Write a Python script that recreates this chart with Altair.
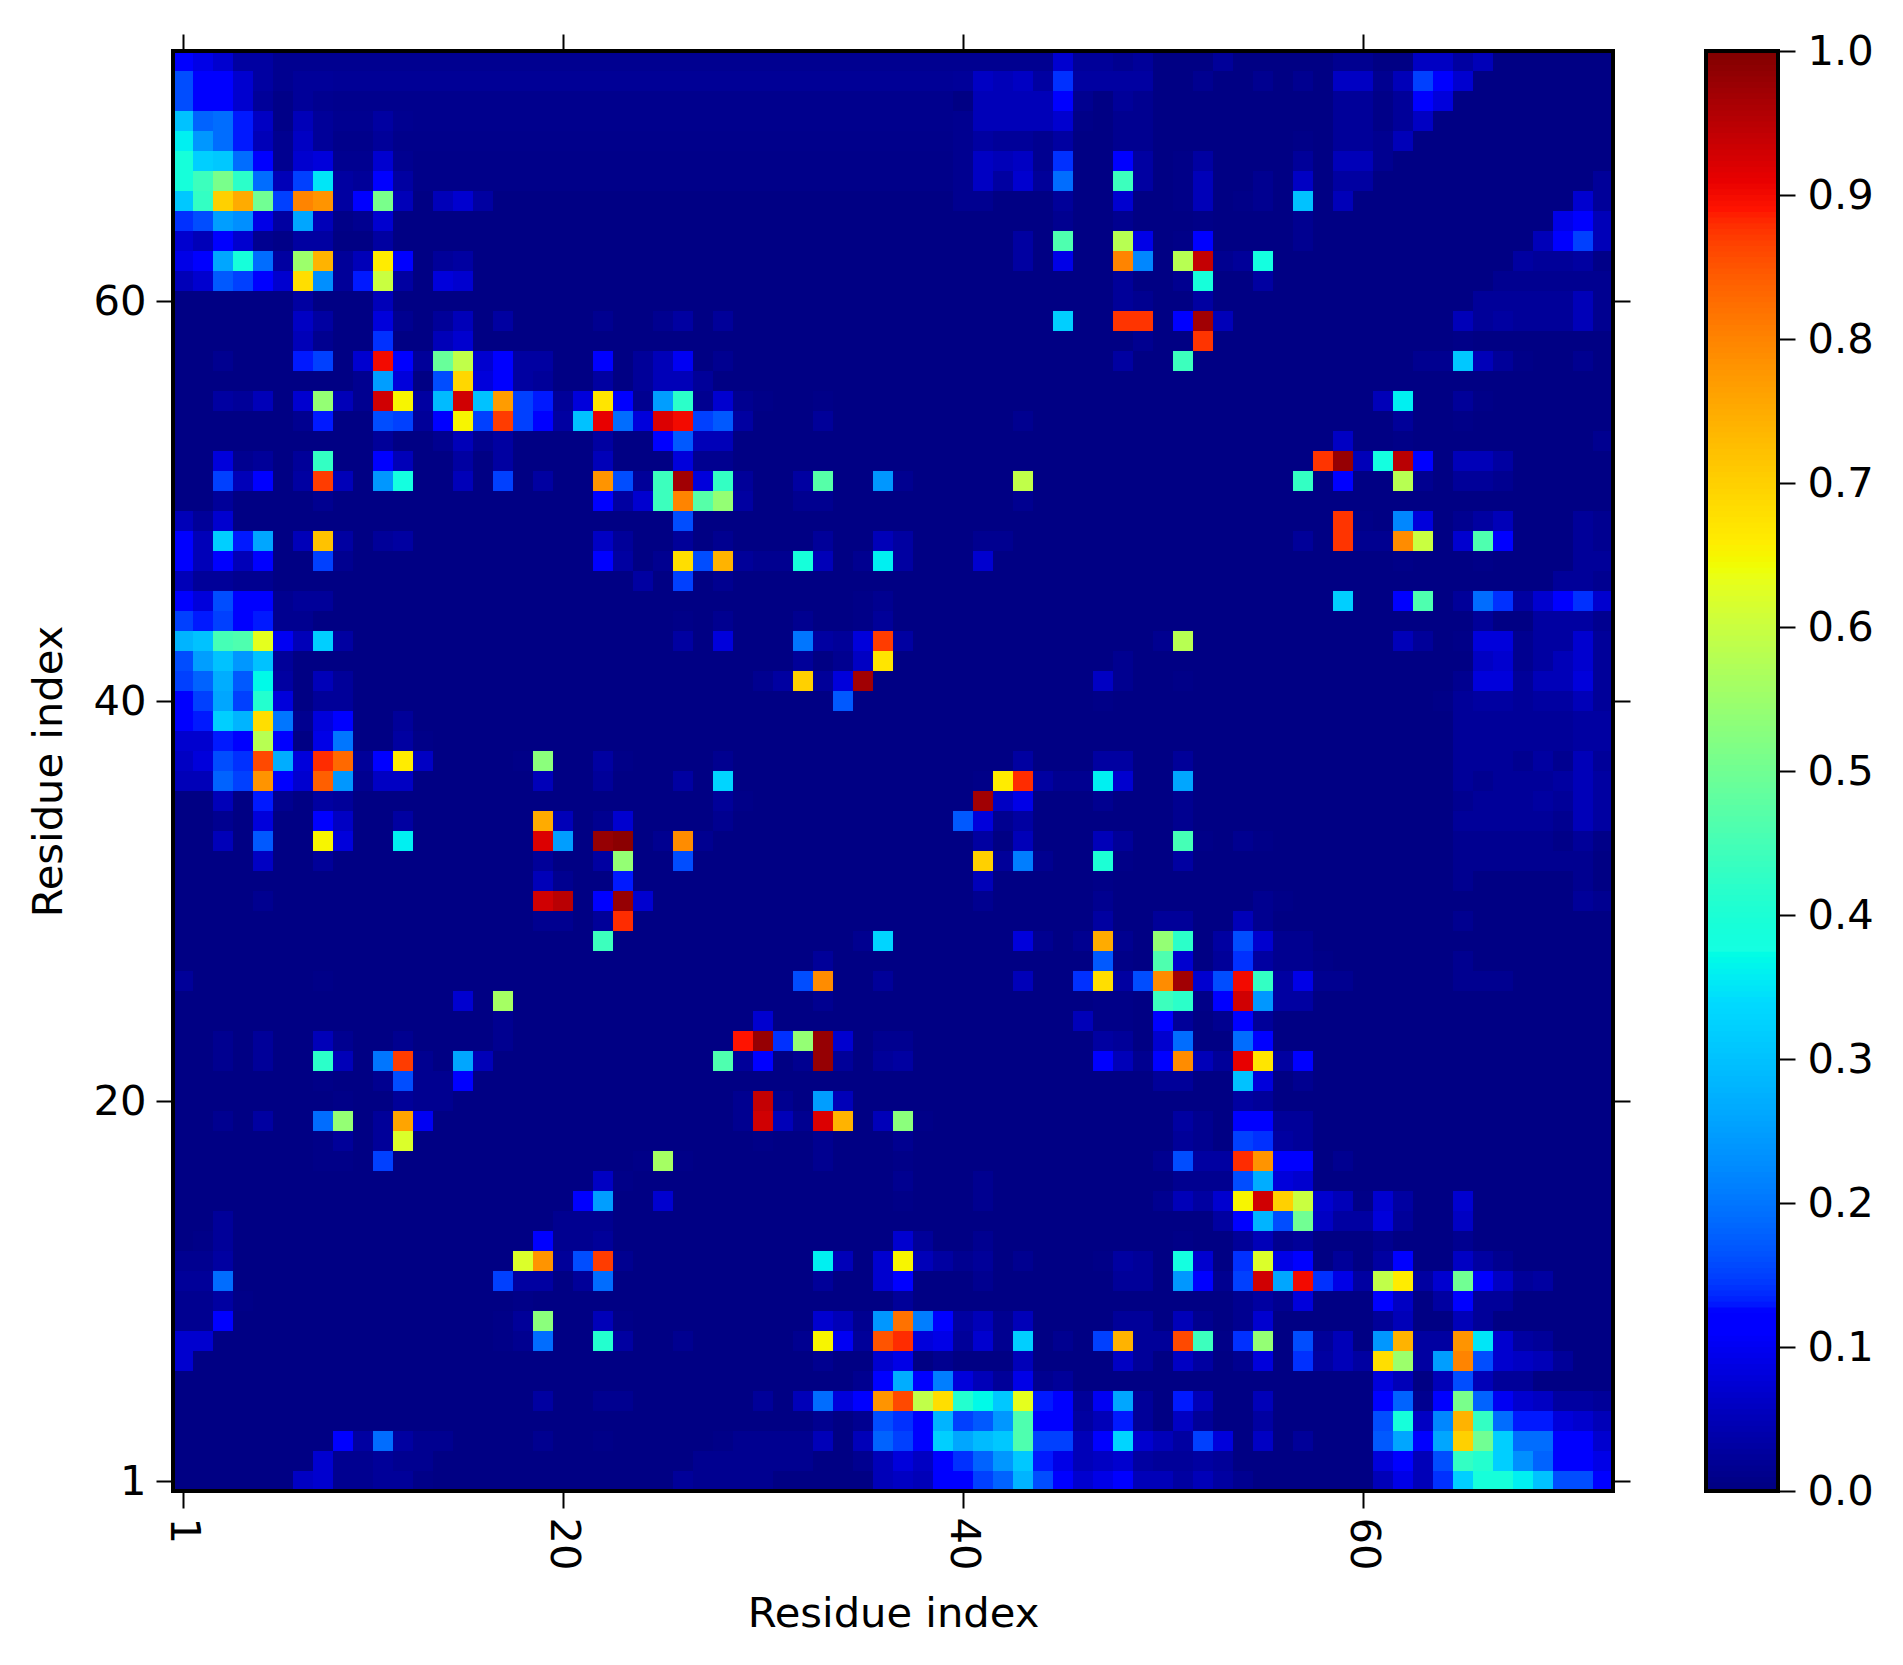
import altair as alt
import pandas as pd

N = 72
background = 0.004
x_ticks = [1, 20, 40, 60]
y_ticks = [1, 20, 40, 60]
bar_ticks = [0.0, 0.1, 0.2, 0.3, 0.4, 0.5, 0.6, 0.7, 0.8, 0.9, 1.0]
bar_levels = [i / 255 for i in range(256)]

jet_stops = [0, .11, .125, .34, .35, .375, .64, .65, .66, .89, .91, 1]
jet_colors = ["#000080", "#0000ff", "#0000ff", "#00dbff", "#00e6f7", "#15ffe2",
              "#eeff08", "#f7f500", "#ffec00", "#ff1300", "#e80000", "#800000"]

faint_spans = [(72, 8, 44, .015), (71, 9, 39, .02), (70, 9, 39, .012), (69, 9, 39, .012),
               (68, 9, 39, .01), (67, 9, 39, .008), (66, 9, 39, .008)]

r72 = {1:.11,2:.09,3:.07,4:.04,5:.04,6:.02,7:.02,45:.07,46:.03,47:.03,48:.02,49:.03,53:.03,59:.02,60:.02,63:.06,64:.06,65:.04,66:.05}
r71 = {1:.16,2:.11,3:.11,4:.07,5:.04,6:.02,7:.03,8:.03,40:.03,41:.06,42:.05,43:.06,44:.04,45:.14,46:.04,47:.04,48:.04,49:.04,52:.02,55:.02,57:.02,59:.06,60:.06,61:.02,62:.05,63:.15,64:.11,65:.07}
r70 = {1:.16,2:.11,3:.11,4:.07,5:.03,6:.01,7:.03,8:.02,41:.05,42:.05,43:.05,44:.05,45:.11,46:.02,48:.03,49:.02,59:.03,60:.03,61:.01,62:.03,63:.11,64:.08}
r69 = {1:.3,2:.18,3:.19,4:.13,5:.06,6:.01,7:.05,8:.03,9:.02,10:.02,11:.04,12:.02,40:.02,41:.05,42:.05,43:.05,44:.05,45:.07,46:.01,48:.02,49:.02,59:.03,60:.03,61:.01,62:.03,63:.06}
r68 = {1:.36,2:.24,3:.19,4:.13,5:.05,6:.02,7:.06,8:.03,11:.03,40:.02,41:.04,42:.03,43:.03,44:.02,45:.04,48:.02,49:.02,57:.01,59:.03,60:.03,61:.02,62:.05}
r67 = {1:.39,2:.32,3:.31,4:.19,5:.11,6:.02,7:.07,8:.08,9:.02,10:.02,11:.07,12:.02,40:.02,41:.06,42:.05,43:.06,44:.02,45:.14,48:.11,49:.04,51:.01,52:.04,57:.03,59:.05,60:.05,61:.02}
r66 = {1:.39,2:.44,3:.51,4:.42,5:.19,6:.05,7:.15,8:.35,9:.04,10:.03,11:.11,12:.04,40:.02,41:.06,42:.04,43:.07,44:.03,45:.19,48:.44,49:.04,51:.01,52:.05,55:.02,57:.06,59:.04,60:.04,72:.03}
r65 = {1:.31,2:.43,3:.7,4:.75,5:.5,6:.15,7:.8,8:.78,9:.04,10:.11,11:.51,12:.05,14:.05,15:.07,16:.04,40:.02,41:.02,45:.03,48:.07,51:.01,52:.05,54:.01,55:.02,57:.3,59:.05,71:.07,72:.03}
r64 = {1:.14,2:.16,3:.25,4:.23,5:.09,6:.04,7:.26,8:.05,9:.01,10:.02,11:.07,45:.02,48:.02,52:.01,57:.02,70:.09,71:.11,72:.05}
r63 = {1:.07,2:.05,3:.11,4:.07,5:.02,6:.01,7:.04,8:.04,11:.04,43:.04,45:.46,48:.58,49:.09,51:.01,52:.11,57:.02,69:.05,70:.11,71:.15,72:.05}
r62 = {1:.09,2:.11,3:.26,4:.39,5:.19,6:.04,7:.55,8:.74,9:.03,10:.05,11:.66,12:.11,14:.03,15:.04,43:.04,45:.09,48:.8,49:.22,51:.58,52:.94,53:.02,54:.03,55:.38,68:.04,69:.03,70:.03,71:.04,72:.01}
r61 = {1:.05,2:.07,3:.17,4:.15,5:.11,6:.07,7:.68,8:.23,9:.03,10:.13,11:.6,12:.04,14:.08,15:.07,48:.03,51:.02,52:.39,55:.04,67:.02,68:.02,69:.02,70:.02,71:.02,72:.02}
r60 = {7:.04,11:.05,48:.03,49:.02,52:.04,66:.03,67:.03,68:.03,69:.03,70:.03,71:.05,72:.02}
r59 = {7:.06,8:.04,11:.08,12:.02,14:.03,15:.05,17:.04,22:.02,25:.02,26:.04,28:.03,45:.32,48:.875,49:.875,51:.11,52:.97,53:.05,65:.05,66:.03,67:.04,68:.03,69:.03,70:.03,71:.05,72:.02}
r58 = {7:.05,8:.02,11:.14,14:.05,15:.07,49:.02,52:.875,65:.01}
r57 = {3:.02,7:.13,8:.15,10:.07,11:.9,12:.12,13:.03,14:.49,15:.59,16:.07,17:.11,18:.04,19:.04,22:.11,24:.03,25:.05,26:.1,28:.02,48:.04,51:.44,63:.02,64:.02,65:.31,66:.05,67:.03,68:.01,71:.02}
r56 = {10:.02,11:.25,12:.08,14:.16,15:.69,16:.08,17:.11,18:.04,19:.03,22:.04,24:.03,25:.05,26:.05,27:.03}
r55 = {3:.04,4:.03,5:.05,7:.07,8:.54,9:.05,10:.02,11:.93,12:.65,13:.04,14:.29,15:.93,16:.3,17:.77,18:.15,19:.13,20:.03,21:.08,22:.67,23:.11,24:.02,25:.25,26:.42,27:.02,28:.07,29:.02,30:.01,33:.01,61:.05,62:.36,65:.03,66:.01}
r54 = {7:.02,8:.13,11:.16,12:.15,13:.03,14:.11,15:.65,16:.15,17:.87,18:.15,19:.11,20:.04,21:.3,22:.91,23:.19,24:.08,25:.92,26:.9,27:.15,28:.17,29:.04,33:.03,43:.02,62:.03,65:.01}
r53 = {11:.03,14:.02,15:.05,16:.02,17:.04,22:.04,25:.11,26:.17,27:.05,28:.05,59:.06,62:.01,72:.02}
r52 = {3:.08,4:.02,5:.03,7:.03,8:.43,11:.11,12:.05,15:.04,17:.04,22:.05,26:.08,27:.02,28:.02,58:.875,59:.98,60:.05,61:.38,62:.95,63:.11,65:.05,66:.05,67:.04}
r51 = {3:.15,4:.05,5:.12,7:.04,8:.87,9:.05,11:.24,12:.38,15:.05,17:.15,19:.04,22:.78,23:.16,24:.03,25:.44,26:.97,27:.08,28:.43,29:.03,32:.04,33:.47,36:.24,37:.02,43:.59,57:.43,59:.11,62:.58,63:.02,65:.03,66:.03,67:.02}
r50 = {3:.03,8:.02,22:.11,23:.04,24:.07,25:.44,26:.8,27:.47,28:.54,29:.04,32:.02,33:.02,43:.02}
r49 = {1:.05,2:.03,3:.07,26:.16,59:.875,60:.01,62:.22,63:.08,65:.02,66:.04,67:.05,71:.03,72:.02}
r48 = {1:.11,2:.05,3:.32,4:.13,5:.26,7:.05,8:.72,9:.04,11:.03,12:.04,22:.06,23:.03,26:.03,28:.02,33:.03,36:.05,37:.04,41:.02,42:.02,57:.03,59:.875,60:.02,61:.02,62:.79,63:.6,65:.07,66:.46,67:.11,71:.03,72:.02}
r47 = {1:.11,2:.05,3:.11,4:.05,5:.11,8:.15,9:.02,22:.11,23:.04,25:.02,26:.68,27:.16,28:.74,29:.03,30:.02,31:.02,32:.39,33:.05,35:.02,36:.36,37:.04,41:.07,62:.01,66:.01,71:.03,72:.03}
r46 = {1:.05,2:.03,3:.03,4:.02,5:.02,24:.04,26:.15,28:.02,70:.03,71:.03,72:.02}
r45 = {1:.11,2:.08,3:.16,4:.11,5:.11,6:.02,7:.03,8:.03,35:.01,36:.02,59:.32,62:.11,63:.46,65:.03,66:.19,67:.14,68:.04,69:.07,70:.11,71:.14,72:.07}
r44 = {1:.15,2:.13,3:.15,4:.11,5:.13,6:.02,7:.02,26:.01,28:.02,32:.02,35:.01,36:.03,66:.03,69:.04,70:.04,71:.04,72:.02}
r43 = {1:.28,2:.3,3:.45,4:.46,5:.63,6:.1,7:.05,8:.32,9:.04,26:.04,28:.08,32:.2,33:.04,34:.03,35:.08,36:.87,37:.04,50:.02,51:.58,62:.05,63:.03,65:.01,66:.08,67:.08,68:.02,69:.04,70:.04,71:.07,72:.03}
r42 = {1:.16,2:.25,3:.3,4:.24,5:.3,6:.03,32:.03,34:.02,35:.06,36:.67,48:.02,66:.06,67:.07,68:.02,69:.04,70:.05,71:.07,72:.03}
r41 = {1:.15,2:.18,3:.27,4:.17,5:.37,6:.04,8:.05,9:.03,30:.02,31:.04,32:.7,33:.03,34:.08,35:.97,47:.06,48:.02,51:.01,65:.02,66:.08,67:.08,68:.03,69:.05,70:.05,71:.08,72:.03}
r40 = {1:.11,2:.15,3:.26,4:.15,5:.41,6:.08,8:.03,9:.03,34:.17,47:.01,64:.01,65:.03,66:.04,67:.04,68:.03,69:.04,70:.04,71:.05,72:.03}
r39 = {1:.11,2:.13,3:.32,4:.28,5:.68,6:.2,7:.02,8:.08,9:.11,12:.03,65:.03,66:.03,67:.03,68:.03,69:.03,70:.03,71:.04,72:.04}
r38 = {1:.07,2:.07,3:.13,4:.11,5:.58,6:.12,8:.09,9:.2,12:.04,13:.01,65:.03,66:.03,67:.03,68:.03,69:.03,70:.03,71:.04,72:.04}
r37 = {1:.06,2:.08,3:.16,4:.14,5:.86,6:.27,7:.08,8:.88,9:.83,10:.03,11:.11,12:.66,13:.06,18:.01,19:.53,22:.04,23:.01,28:.02,43:.04,47:.04,48:.04,51:.03,65:.03,66:.03,67:.03,68:.02,69:.04,70:.02,71:.05,72:.03}
r36 = {1:.05,2:.05,3:.18,4:.15,5:.78,6:.11,7:.07,8:.84,9:.24,10:.02,11:.06,12:.06,19:.05,22:.03,26:.04,28:.33,41:.01,42:.66,43:.88,44:.04,45:.02,46:.02,47:.36,48:.07,51:.26,65:.03,66:.02,67:.03,68:.03,69:.03,70:.04,71:.05,72:.04}
r35 = {3:.05,5:.13,6:.02,8:.04,9:.03,28:.03,29:.01,41:.97,42:.06,43:.09,47:.02,51:.02,65:.02,66:.03,67:.03,68:.03,69:.04,70:.03,71:.05,72:.04}
r34 = {3:.02,5:.08,8:.11,9:.06,12:.04,19:.75,20:.05,22:.02,23:.07,28:.02,40:.17,41:.08,42:.02,43:.04,51:.02,65:.03,66:.03,67:.03,68:.03,69:.03,70:.02,71:.05,72:.04}
r33 = {3:.05,5:.17,8:.65,9:.08,12:.36,19:.92,20:.25,22:.98,23:.99,25:.02,26:.79,27:.02,41:.04,43:.05,47:.05,48:.03,51:.45,52:.01,54:.02,55:.01,65:.02,66:.02,67:.02,68:.02,69:.02,70:.01,71:.03,72:.01}
r32 = {5:.06,8:.03,19:.03,22:.04,23:.54,26:.16,41:.7,42:.03,43:.21,44:.02,47:.4,48:.01,51:.04,65:.02,66:.02,67:.02,68:.02,69:.02,70:.02,71:.02}
r31 = {19:.05,20:.02,23:.13,41:.05,47:.01,65:.02,71:.02}
r30 = {5:.02,19:.93,20:.95,22:.11,23:.98,24:.07,41:.02,47:.02,55:.02,56:.01,71:.03,72:.02}
r29 = {19:.02,20:.02,22:.03,23:.88,47:.04,50:.03,51:.03,54:.05,55:.02,65:.02}
r28 = {22:.44,35:.02,36:.33,43:.08,44:.02,46:.02,47:.75,48:.02,50:.54,51:.42,53:.04,54:.16,55:.07,56:.02,57:.02}
r27 = {33:.03,47:.17,48:.01,50:.46,51:.07,53:.03,54:.14,55:.04,56:.02,57:.02,58:.01,65:.02}
r26 = {1:.03,8:.01,32:.16,33:.79,36:.03,43:.05,46:.14,47:.68,48:.04,49:.16,50:.79,51:.97,52:.07,53:.16,54:.9,55:.43,56:.04,57:.09,58:.02,59:.02,65:.02,66:.02,67:.02}
r25 = {15:.07,17:.56,33:.02,47:.01,48:.01,50:.44,51:.42,52:.01,53:.11,54:.93,55:.24,56:.04,57:.04}
r24 = {17:.02,30:.07,46:.05,47:.01,48:.01,50:.11,51:.03,53:.02,54:.11,55:.03}
r23 = {3:.02,5:.03,8:.05,9:.02,12:.02,17:.02,29:.89,30:.98,31:.14,32:.54,33:.98,34:.07,36:.02,37:.02,47:.04,48:.03,50:.07,51:.19,54:.19,55:.11}
r22 = {3:.02,5:.03,8:.42,9:.05,11:.2,12:.87,13:.02,15:.26,16:.05,28:.46,29:.03,30:.11,32:.02,33:.98,34:.03,36:.03,37:.04,47:.11,48:.05,49:.02,50:.11,51:.79,52:.05,53:.03,54:.91,55:.67,56:.04,57:.11}
r21 = {8:.01,11:.02,12:.16,13:.02,14:.02,15:.11,50:.03,51:.03,54:.3,55:.08,57:.02}
r20 = {9:.01,12:.03,13:.02,14:.02,29:.02,30:.94,31:.02,33:.25,34:.05,54:.04,55:.03}
r19 = {3:.02,5:.04,8:.19,9:.54,11:.03,12:.76,13:.1,29:.02,30:.93,31:.05,32:.02,33:.92,34:.74,36:.05,37:.53,38:.01,51:.04,52:.02,54:.11,55:.11,56:.03,57:.03}
r18 = {8:.01,9:.03,11:.03,12:.62,30:.01,33:.02,37:.02,51:.03,52:.02,54:.15,55:.14,56:.04,57:.03}
r17 = {8:.01,9:.01,11:.15,24:.01,25:.56,26:.01,33:.02,37:.01,50:.02,51:.16,52:.04,53:.04,54:.88,55:.78,56:.11,57:.11,59:.02}
r16 = {22:.06,23:.01,37:.02,41:.02,51:.02,52:.02,53:.02,54:.16,55:.27,56:.08,57:.07}
r15 = {21:.11,22:.25,25:.07,37:.01,41:.02,50:.02,51:.05,52:.04,53:.07,54:.65,55:.93,56:.7,57:.6,58:.07,59:.05,60:.01,61:.07,62:.04,65:.07}
r14 = {3:.03,20:.02,21:.02,22:.02,53:.04,54:.11,55:.28,56:.16,57:.5,58:.06,59:.04,60:.04,61:.08,62:.03,65:.06}
r13 = {2:.01,3:.03,19:.11,20:.02,21:.02,22:.03,37:.07,38:.03,41:.02,51:.01,54:.03,55:.05,56:.02,57:.03,61:.02,65:.02}
r12 = {1:.02,2:.02,3:.04,18:.62,19:.78,20:.03,21:.16,22:.87,23:.02,33:.36,34:.05,36:.07,37:.65,38:.05,39:.04,40:.02,41:.03,43:.02,47:.01,48:.04,49:.03,51:.38,52:.07,54:.14,55:.62,56:.09,57:.12,59:.03,61:.04,62:.11,65:.06,66:.04,67:.02}
r11 = {1:.03,2:.03,3:.19,17:.15,18:.04,19:.04,21:.03,22:.19,33:.03,36:.07,37:.11,41:.02,48:.03,49:.03,51:.24,52:.11,53:.02,54:.15,55:.93,56:.26,57:.9,58:.14,59:.09,60:.04,61:.59,62:.66,63:.04,64:.07,65:.5,66:.11,67:.06,68:.03,69:.04}
r10 = {1:.02,2:.02,3:.04,4:.01,18:.01,37:.03,54:.02,55:.04,56:.02,57:.08,61:.12,62:.06,64:.04,65:.11,66:.03,67:.03}
r9 = {1:.02,2:.02,3:.11,17:.01,18:.03,19:.53,22:.05,23:.01,33:.07,34:.05,35:.02,36:.24,37:.82,38:.21,39:.11,40:.04,41:.05,42:.02,43:.05,48:.03,49:.03,51:.05,52:.02,54:.02,55:.07,61:.03,62:.05,65:.05,66:.03}
r8 = {1:.07,2:.07,17:.01,18:.02,19:.19,22:.41,23:.04,26:.02,32:.02,33:.65,34:.1,35:.03,36:.85,37:.88,38:.08,39:.09,40:.03,41:.07,42:.02,43:.32,45:.02,47:.15,48:.74,49:.03,50:.03,51:.86,52:.44,53:.01,54:.14,55:.54,57:.16,58:.03,59:.05,61:.24,62:.74,63:.04,64:.04,65:.78,66:.35,67:.07,68:.04,69:.03}
r7 = {1:.07,33:.02,36:.07,37:.09,39:.02,43:.05,48:.06,49:.03,51:.06,52:.04,54:.02,55:.08,57:.14,58:.04,59:.05,60:.04,61:.68,62:.55,63:.04,64:.25,65:.8,66:.16,67:.07,68:.06,69:.05,70:.03}
r6 = {35:.02,36:.11,37:.27,38:.11,39:.21,40:.08,41:.05,42:.03,43:.09,44:.02,45:.03,61:.08,62:.05,64:.05,65:.16,66:.05,67:.03,68:.03}
r5 = {19:.04,22:.02,23:.02,30:.03,32:.05,33:.19,34:.08,35:.11,36:.78,37:.86,38:.59,39:.68,40:.41,41:.37,42:.31,43:.63,44:.13,45:.11,46:.03,47:.1,48:.26,49:.03,51:.13,52:.05,55:.05,61:.11,62:.18,63:.02,64:.11,65:.51,66:.18,67:.1,68:.07,69:.06,70:.04,71:.04,72:.03}
r4 = {33:.02,35:.02,36:.16,37:.14,38:.11,39:.28,40:.15,41:.17,42:.24,43:.46,44:.11,45:.11,46:.04,47:.05,48:.13,49:.03,51:.06,52:.03,55:.04,61:.16,62:.39,63:.06,64:.22,65:.74,66:.43,67:.19,68:.13,69:.13,70:.08,71:.07,72:.05}
r3 = {9:.11,10:.04,11:.19,12:.04,13:.02,14:.02,19:.02,22:.01,28:.01,29:.02,30:.02,31:.02,32:.02,33:.05,35:.05,36:.18,37:.15,38:.12,39:.32,40:.26,41:.29,42:.31,43:.46,44:.15,45:.15,46:.05,47:.11,48:.33,49:.07,50:.05,51:.04,52:.15,53:.08,55:.06,57:.03,61:.17,62:.26,63:.11,64:.26,65:.7,66:.5,67:.32,68:.19,69:.19,70:.11,71:.11,72:.07}
r2 = {8:.07,9:.02,10:.02,11:.03,12:.02,13:.02,27:.02,28:.02,29:.02,30:.02,31:.02,32:.02,35:.02,36:.05,37:.08,38:.06,39:.12,40:.14,41:.18,42:.24,43:.31,44:.13,45:.09,46:.05,47:.06,48:.07,49:.04,50:.03,51:.03,52:.04,53:.03,61:.08,62:.11,63:.05,64:.16,65:.43,66:.41,67:.32,68:.23,69:.18,70:.11,71:.11,72:.09}
r1 = {7:.06,8:.07,9:.02,10:.02,11:.03,12:.03,13:.01,26:.03,27:.02,28:.02,29:.02,30:.02,36:.05,37:.06,38:.05,39:.11,40:.11,41:.15,42:.18,43:.28,44:.16,45:.11,46:.07,47:.09,48:.11,49:.05,50:.05,51:.04,52:.05,53:.04,54:.02,61:.05,62:.09,63:.05,64:.14,65:.32,66:.39,67:.39,68:.36,69:.3,70:.16,71:.16,72:.11}

rows = [r1,r2,r3,r4,r5,r6,r7,r8,r9,r10,r11,r12,r13,r14,r15,r16,r17,r18,r19,r20,r21,r22,r23,r24,
        r25,r26,r27,r28,r29,r30,r31,r32,r33,r34,r35,r36,r37,r38,r39,r40,r41,r42,r43,r44,r45,r46,r47,r48,
        r49,r50,r51,r52,r53,r54,r55,r56,r57,r58,r59,r60,r61,r62,r63,r64,r65,r66,r67,r68,r69,r70,r71,r72]

faint = {}
for y, a, b, v in faint_spans:
    for x in range(a, b + 1):
        faint[(x, y)] = v

records = []
for y in range(1, N + 1):
    row = rows[y - 1]
    for x in range(1, N + 1):
        v = row.get(x, faint.get((x, y), background))
        if x in row and v < .05:
            v *= .75  # my dim readings ran a little bright against the reference
        records.append({"x0": x - .5, "x1": x + .5, "y0": y - .5, "y1": y + .5, "v": v})
cells = pd.DataFrame(records)

FONT = "DejaVu Sans"
FS = 41.67
color = alt.Color("v:Q", legend=None,
                  scale=alt.Scale(domain=jet_stops, range=jet_colors, clamp=True))
pos = alt.Scale(domain=[.5, N + .5], nice=False, zero=False)


def axis(orient, values=None, title=None, labels=False, **kw):
    return alt.Axis(orient=orient, values=values, title=title, labels=labels, domain=False, grid=False,
                    ticks=True, tickSize=17, tickWidth=2, tickColor="black",
                    labelFont=FONT, labelFontSize=FS, labelColor="black",
                    titleFont=FONT, titleFontSize=FS, titleFontWeight="normal", titleColor="black", **kw)


heat = alt.Chart(cells).mark_rect(strokeWidth=0).encode(
    x=alt.X("x0:Q", scale=pos, axis=axis("bottom", x_ticks, "Residue index", True, labelAngle=90, labelPadding=9,
                                         labelBaseline="middle", labelAlign="left", titlePadding=23, labelFlush=False,
                                         labelOverlap=False)),
    x2="x1:Q",
    y=alt.Y("y0:Q", scale=pos, axis=axis("left", y_ticks, "Residue index", True, labelPadding=10, titlePadding=22,
                                         labelFlush=False, labelOverlap=False)),
    y2="y1:Q",
    color=color,
)
opposite = alt.Chart(pd.DataFrame({"x": [1], "y": [1]})).mark_point(opacity=0).encode(
    x=alt.X("x:Q", scale=pos, axis=axis("top", x_ticks)),
    y=alt.Y("y:Q", scale=pos, axis=axis("right", y_ticks)),
)
frame = alt.Chart(pd.DataFrame({"a": [.5], "b": [N + .5]})).mark_rect(
    fillOpacity=0, stroke="black", strokeWidth=4).encode(
    x=alt.X("a:Q", scale=pos, axis=None), x2="b:Q",
    y=alt.Y("a:Q", scale=pos, axis=None), y2="b:Q",
)
main = alt.layer(heat, opposite, frame).resolve_axis(x="independent", y="independent").properties(width=1440, height=1440)

bar_df = pd.DataFrame({"v": bar_levels})
bar_df["lo"] = (bar_df["v"] - 0.5 / 255).clip(lower=0)
bar_df["hi"] = (bar_df["v"] + 2.5 / 255).clip(upper=1)
bar_df["a"] = 0
bar_df["b"] = 1
unit = alt.Scale(domain=[0, 1], nice=False, zero=False)
bar = alt.Chart(bar_df).mark_rect(strokeWidth=0).encode(
    x=alt.X("a:Q", scale=unit, axis=None), x2="b:Q",
    y=alt.Y("lo:Q", scale=unit, axis=axis("right", bar_ticks, None, True, format=".1f", labelPadding=12,
                                          labelFlush=False, labelOverlap=False)),
    y2="hi:Q",
    color=color,
)
bar_frame = alt.Chart(pd.DataFrame({"a": [0], "b": [1], "c": [0], "d": [1]})).mark_rect(
    fillOpacity=0, stroke="black", strokeWidth=4).encode(
    x=alt.X("a:Q", scale=unit, axis=None), x2="b:Q",
    y=alt.Y("c:Q", scale=unit, axis=alt.Axis(orient="left", title=None, labels=False, ticks=False, domain=False, grid=False)),
    y2="d:Q",
)
colorbar = alt.layer(bar, bar_frame).resolve_axis(y="independent").properties(width=72, height=1440)

chart = alt.hconcat(main, colorbar, spacing=93, bounds="flush").configure_view(stroke=None).configure(
    background="white").properties(padding={"left": 20, "top": 22, "right": 0, "bottom": 0})
chart.save("out.html", embed_options={"renderer": "svg", "actions": False})
